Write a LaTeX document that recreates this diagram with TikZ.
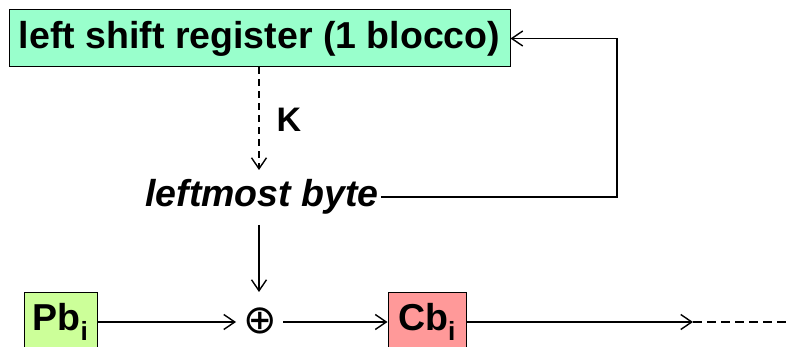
\documentclass[tikz,border=0pt]{standalone}
\usepackage{fontspec}
\setmainfont{Liberation Sans}
\newfontfamily\symbolfont{DejaVu Sans}
\usetikzlibrary{arrows.meta}
\definecolor{regfill}{HTML}{99FFCC}
\definecolor{plainfill}{HTML}{CCFF99}
\definecolor{cipherfill}{HTML}{FF9999}
\begin{document}
\begin{tikzpicture}[x=1pt,y=-1pt,
  big/.style={font=\fontsize{37.5}{40}\selectfont\bfseries},
  blockbox/.style={draw=black,line width=1pt,inner sep=0pt,minimum height=58pt},
  flow/.style={line width=1.4pt,-{Straight Barb[length=11pt,width=15pt,line width=1.4pt]}},
  link/.style={line width=1.4pt}]
\useasboundingbox (0,0) rectangle (790,347);
% shift register and key path
\node[blockbox,big,fill=regfill,minimum width=501pt,minimum height=57pt] (reg) at (259.5,38.5) {left shift register (1 blocco)};
\node[font=\fontsize{34}{36}\selectfont\bfseries] (k) at (289,120) {K};
\node[big,font=\fontsize{37.5}{40}\selectfont\bfseries\itshape,inner sep=2pt] (lb) at (262,197) {leftmost byte};
\coordinate (fb) at (617,197);
\coordinate (kend) at (259,170);
\coordinate (lbout) at (259,225);
% bottom row
\node[blockbox,big,fill=plainfill,minimum width=73pt] (pb) at (60.5,322) {Pb\textsubscript{i}};
\node[inner sep=0pt,font=\fontsize{40}{40}\selectfont\symbolfont] (xor) at (260,321) {⊕};
\node[blockbox,big,fill=cipherfill,minimum width=78pt] (cb) at (427,322) {Cb\textsubscript{i}};
\coordinate (xin) at (259,292);
\coordinate (xl) at (236,322);
\coordinate (xr) at (283,322);
\coordinate (out) at (693,322);
\coordinate (tail) at (790,322);
% connectors
\draw[flow,dash pattern=on 7pt off 5pt] (reg.south -| kend) -- (kend);
\draw[flow] (lbout) -- (xin);
\draw[flow] (lb.east) -- (fb) |- (reg.east);
\draw[flow] (pb.east) -- (xl);
\draw[flow] (xr) -- (cb.west);
\draw[flow] (cb.east) -- (out);
\draw[link,dash pattern=on 9pt off 5pt] (out) -- (tail);
\end{tikzpicture}
\end{document}
